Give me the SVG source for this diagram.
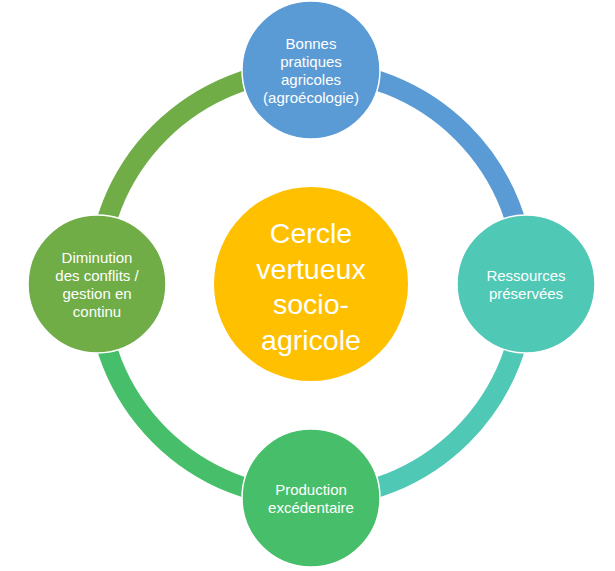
<svg xmlns="http://www.w3.org/2000/svg" width="615" height="571" viewBox="0 0 615 571">
<style>
.arc{fill:none;stroke-width:20}
.node{stroke:#fff;stroke-width:1.5}
.t{font-family:"Liberation Sans",Arial,sans-serif;font-size:15px;fill:#fff;text-anchor:middle;dominant-baseline:central}
.tc{font-family:"Liberation Sans",Arial,sans-serif;font-size:28.5px;fill:#fff;text-anchor:middle;dominant-baseline:central}
</style>
<rect width="615" height="571" fill="#fff"/>
<g id="connectors">
<path class="arc" stroke="#70AD47" d="M97,284 A214,214 0 0 1 311,70"/>
<path class="arc" stroke="#5B9BD5" d="M311,70 A214,214 0 0 1 525,284"/>
<path class="arc" stroke="#4FC8B5" d="M525,284 A214,214 0 0 1 311,498"/>
<path class="arc" stroke="#47BE69" d="M311,498 A214,214 0 0 1 97,284"/>
</g>
<g id="center">
<circle cx="311" cy="284" r="97" fill="#FFC000"/>
<text class="tc" x="311" y="233">Cercle</text>
<text class="tc" x="311" y="268.5">vertueux</text>
<text class="tc" x="311" y="304">socio-</text>
<text class="tc" x="311" y="339.5">agricole</text>
</g>
<g id="node-top">
<circle class="node" cx="311" cy="70" r="69" fill="#5B9BD5"/>
<text class="t" x="311" y="43">Bonnes</text>
<text class="t" x="311" y="61">pratiques</text>
<text class="t" x="311" y="79">agricoles</text>
<text class="t" x="311" y="97">(agroécologie)</text>
</g>
<g id="node-right">
<circle class="node" cx="526" cy="284" r="69" fill="#4FC8B5"/>
<text class="t" x="526" y="275">Ressources</text>
<text class="t" x="526" y="293">préservées</text>
</g>
<g id="node-bottom">
<circle class="node" cx="311" cy="498" r="69" fill="#47BE69"/>
<text class="t" x="311" y="489">Production</text>
<text class="t" x="311" y="507">excédentaire</text>
</g>
<g id="node-left">
<circle class="node" cx="97" cy="284" r="69" fill="#70AD47"/>
<text class="t" x="97" y="257">Diminution</text>
<text class="t" x="97" y="275">des conflits /</text>
<text class="t" x="97" y="293">gestion en</text>
<text class="t" x="97" y="311">continu</text>
</g>
</svg>
